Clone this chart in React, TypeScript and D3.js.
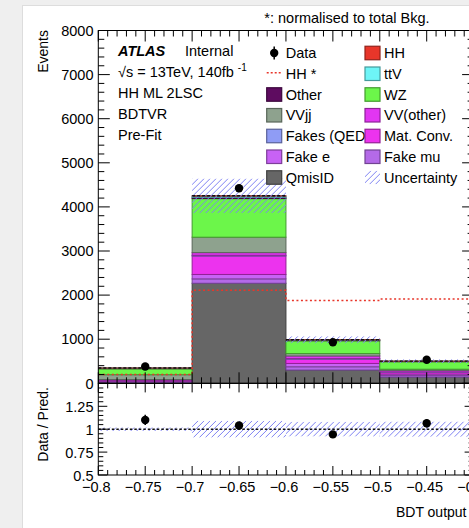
import React from "react";
import * as d3 from "d3";

// Bin edges of the BDT output histogram
const binEdges = [-0.8, -0.7, -0.6, -0.5, -0.4];

// Expected yields per bin for each background sample (stacking order, bottom to top)
const qmisIdYield = [22, 2268, 300, 140];
const fakeMuYield = [12, 100, 75, 35];
const fakeEYield = [12, 100, 75, 35];
const matConvYield = [15, 420, 100, 45];
const fakesQedYield = [4, 15, 10, 5];
const vvOtherYield = [20, 60, 60, 35];
const vvjjYield = [110, 350, 55, 25];
const wzYield = [135, 875, 290, 170];
const otherYield = [10, 28, 15, 8];
const ttvYield = [5, 28, 5, 3];
const hhYield = [2, 8, 2, 1];

// Observed events, total prediction uncertainty and HH signal normalised to total background
const dataYield = [382, 4422, 931, 535];
const totalUncertainty = [7, 390, 80, 42];
const hhNormalisedYield = [200, 2110, 1880, 1910];

// Axis ticks
const mainYTicks = [0, 1000, 2000, 3000, 4000, 5000, 6000, 7000, 8000];
const ratioYTicks = [0.5, 0.75, 1, 1.25];
const xTickValues = [-0.8, -0.75, -0.7, -0.65, -0.6, -0.55, -0.5, -0.45, -0.4];

const FONT = "'Liberation Sans', Arial, Helvetica, sans-serif";
const FS = 14.5;

type Sample = { name: string; values: number[]; color: string };

const samples: Sample[] = [
  { name: "QmisID", values: qmisIdYield, color: "#666666" },
  { name: "Fake mu", values: fakeMuYield, color: "#b46ae8" },
  { name: "Fake e", values: fakeEYield, color: "#c862f5" },
  { name: "Mat. Conv.", values: matConvYield, color: "#ec33ee" },
  { name: "Fakes (QED)", values: fakesQedYield, color: "#8f9cf5" },
  { name: "VV(other)", values: vvOtherYield, color: "#e236f2" },
  { name: "VVjj", values: vvjjYield, color: "#8ea28e" },
  { name: "WZ", values: wzYield, color: "#6cf64a" },
  { name: "Other", values: otherYield, color: "#5e0c60" },
  { name: "ttV", values: ttvYield, color: "#6ef5f7" },
  { name: "HH", values: hhYield, color: "#e8362a" },
];

const colorOf = (n: string) => samples.find((s) => s.name === n)!.color;
const darker = (c: string) => d3.color(c)!.darker(1.3).formatHex();

const HATCH = "#7f82f2";
const RED = "#e8362a";

export default function App() {
  const left = 98.3;
  const right = 473.6;
  const mainTop = 30.5;
  const mainBottom = 383.3;
  const ratioTop = 383.4;
  const ratioBottom = 475;

  const x = d3.scaleLinear().domain([binEdges[0], binEdges[binEdges.length - 1]]).range([left, right]);
  const y = d3.scaleLinear().domain([0, 8000]).range([mainBottom, mainTop]);
  const r = d3.scaleLinear().domain([0.5, 1.5]).range([ratioBottom, ratioTop]);

  const nBins = binEdges.length - 1;
  const rows = d3.range(nBins).map((i) => {
    const row: Record<string, number> = {};
    samples.forEach((s) => (row[s.name] = s.values[i]));
    return row;
  });
  const stacked = d3.stack<Record<string, number>>().keys(samples.map((s) => s.name))(rows);
  const totals = d3.range(nBins).map((i) => d3.sum(samples, (s) => s.values[i]));

  const stepPoints = (vals: number[]) => {
    const pts: [number, number][] = vals.map((v, i) => [binEdges[i], v]);
    pts.push([binEdges[nBins], vals[nBins - 1]]);
    return pts;
  };
  const stepLine = d3
    .line<[number, number]>()
    .x((d) => x(d[0]))
    .y((d) => y(d[1]))
    .curve(d3.curveStepAfter);

  // Tick generators
  const xMinor = d3.range(0, 41).map((i) => ({ v: -0.8 + i * 0.01, major: i % 5 === 0 }));
  const yMinor = d3.range(0, 41).map((i) => ({ v: i * 200, major: i % 5 === 0 }));
  const rMinor = d3.range(0, 21).map((i) => ({ v: 0.5 + i * 0.05, major: i % 5 === 0 }));

  const fmtX = (v: number) => (v < 0 ? "\u2212" : "") + String(Math.abs(v));
  const fmtR = (v: number) => String(v);

  const legendRow = (i: number) => 53 + 20.75 * i;
  const col1Box = 266.7;
  const col2Box = 365;
  const boxW = 15;
  const boxH = 13.5;

  const legendBoxes: { name: string; col: number; row: number }[] = [
    { name: "Other", col: 0, row: 2 },
    { name: "VVjj", col: 0, row: 3 },
    { name: "Fakes (QED)", col: 0, row: 4 },
    { name: "Fake e", col: 0, row: 5 },
    { name: "QmisID", col: 0, row: 6 },
    { name: "HH", col: 1, row: 0 },
    { name: "ttV", col: 1, row: 1 },
    { name: "WZ", col: 1, row: 2 },
    { name: "VV(other)", col: 1, row: 3 },
    { name: "Mat. Conv.", col: 1, row: 4 },
    { name: "Fake mu", col: 1, row: 5 },
  ];

  // Diagonal hatch lines ("///") for the uncertainty band
  const hatchRect = (key: string, x0: number, y0: number, w: number, h: number) => {
    const step = 6;
    const lines = [];
    for (let k = -h; k < w + step; k += step) {
      lines.push(
        <line key={`${key}-${k}`} x1={x0 + k} y1={y0 + h} x2={x0 + k + h} y2={y0} stroke={HATCH} strokeWidth={1} />
      );
    }
    return (
      <g key={key}>
        <clipPath id={`clip-${key}`}>
          <rect x={x0} y={y0} width={w} height={h} />
        </clipPath>
        <g clipPath={`url(#clip-${key})`}>{lines}</g>
      </g>
    );
  };

  return (
    <div style={{ position: "absolute", left: 0, top: 0 }}>
      <svg width={469} height={528} style={{ display: "block", fontFamily: FONT }}>
        <defs>
          <clipPath id="main-clip">
            <rect x={left} y={mainTop} width={right - left} height={mainBottom - mainTop} />
          </clipPath>
          <clipPath id="ratio-clip">
            <rect x={left} y={ratioTop} width={right - left} height={ratioBottom - ratioTop} />
          </clipPath>
          <clipPath id="legend-col1">
            <rect x={0} y={0} width={col2Box} height={528} />
          </clipPath>
        </defs>

        {/* canvas */}
        <rect x={0} y={0} width={469} height={528} fill="#efefef" />
        <rect x={22.5} y={5.5} width={460} height={540} fill="#ffffff" stroke="#dddddd" />

        {/* stacked backgrounds */}
        <g clipPath="url(#main-clip)">
          {stacked.map((layer, li) =>
            layer.map((d, i) => (
              <rect
                key={`${li}-${i}`}
                x={x(binEdges[i])}
                y={y(d[1])}
                width={x(binEdges[i + 1]) - x(binEdges[i])}
                height={Math.max(0, y(d[0]) - y(d[1]))}
                fill={samples[li].color}
                stroke={darker(samples[li].color)}
                strokeWidth={1}
              />
            ))
          )}
          {/* uncertainty band */}
          {totals.map((t, i) =>
            hatchRect(
              `unc-${i}`,
              x(binEdges[i]),
              y(t + totalUncertainty[i]),
              x(binEdges[i + 1]) - x(binEdges[i]),
              y(t - totalUncertainty[i]) - y(t + totalUncertainty[i])
            )
          )}
          {/* total prediction */}
          {totals.map((t, i) => (
            <line
              key={`tot-${i}`}
              x1={x(binEdges[i])}
              x2={x(binEdges[i + 1])}
              y1={y(t)}
              y2={y(t)}
              stroke="#111"
              strokeWidth={1.4}
              strokeDasharray="3,2"
            />
          ))}
          {/* normalised HH */}
          <path
            d={stepLine(stepPoints(hhNormalisedYield))!}
            fill="none"
            stroke={RED}
            strokeWidth={1.5}
            strokeDasharray="2,2.5"
          />
          {/* data */}
          {dataYield.map((d, i) => {
            const cx = x((binEdges[i] + binEdges[i + 1]) / 2);
            const e = Math.sqrt(d);
            return (
              <g key={`data-${i}`}>
                <line x1={cx} x2={cx} y1={y(d - e)} y2={y(d + e)} stroke="#000" strokeWidth={1.5} />
                <circle cx={cx} cy={y(d)} r={4.2} fill="#000" />
              </g>
            );
          })}
        </g>

        {/* ratio panel */}
        <g clipPath="url(#ratio-clip)">
          {totals.map((t, i) =>
            hatchRect(
              `runc-${i}`,
              x(binEdges[i]),
              r(1 + totalUncertainty[i] / t),
              x(binEdges[i + 1]) - x(binEdges[i]),
              r(1 - totalUncertainty[i] / t) - r(1 + totalUncertainty[i] / t)
            )
          )}
          <line x1={left} x2={right} y1={r(1)} y2={r(1)} stroke="#111" strokeWidth={1.4} strokeDasharray="2.5,2" />
          {dataYield.map((d, i) => {
            const cx = x((binEdges[i] + binEdges[i + 1]) / 2);
            const ratio = d / totals[i];
            const e = Math.sqrt(d) / totals[i];
            return (
              <g key={`rdata-${i}`}>
                <line x1={cx} x2={cx} y1={r(ratio - e)} y2={r(ratio + e)} stroke="#000" strokeWidth={1.5} />
                <circle cx={cx} cy={r(ratio)} r={4.2} fill="#000" />
              </g>
            );
          })}
        </g>

        {/* frames */}
        <rect x={left} y={mainTop} width={right - left} height={mainBottom - mainTop} fill="none" stroke="#000" strokeWidth={1} />
        <rect x={left} y={ratioTop} width={right - left} height={ratioBottom - ratioTop} fill="none" stroke="#000" strokeWidth={1} />

        {/* ticks */}
        <g stroke="#000" strokeWidth={1}>
          {xMinor.map((t, i) => {
            const xx = x(t.v);
            const lm = t.major ? 11 : 6;
            const lr = t.major ? 9 : 5;
            return (
              <g key={`xt-${i}`}>
                <line x1={xx} x2={xx} y1={mainBottom} y2={mainBottom - lm} />
                <line x1={xx} x2={xx} y1={mainTop} y2={mainTop + lm} />
                <line x1={xx} x2={xx} y1={ratioTop} y2={ratioTop + lr} />
                <line x1={xx} x2={xx} y1={ratioBottom} y2={ratioBottom - lr} />
              </g>
            );
          })}
          {yMinor.map((t, i) => {
            const yy = y(t.v);
            const l = t.major ? 11.5 : 6;
            return (
              <g key={`yt-${i}`}>
                <line x1={left} x2={left + l} y1={yy} y2={yy} />
                <line x1={right} x2={right - l} y1={yy} y2={yy} />
              </g>
            );
          })}
          {rMinor.map((t, i) => {
            const yy = r(t.v);
            const l = t.major ? 9 : 5;
            return (
              <g key={`rt-${i}`}>
                <line x1={left} x2={left + l} y1={yy} y2={yy} />
                <line x1={right} x2={right - l} y1={yy} y2={yy} />
              </g>
            );
          })}
        </g>

        {/* tick labels */}
        <g fontSize={FS} fill="#000">
          {mainYTicks.map((v) => (
            <text key={`yl-${v}`} x={93.5} y={y(v) + 5.2} textAnchor="end">
              {v}
            </text>
          ))}
          {ratioYTicks.map((v) => (
            <text key={`rl-${v}`} x={93.5} y={r(v) + 5.4 + (v === 0.5 ? 1 : 0)} textAnchor="end">
              {fmtR(v)}
            </text>
          ))}
          {xTickValues.map((v) => (
            <text key={`xl-${v}`} x={x(v) - 2} y={491.5} textAnchor="middle">
              {fmtX(v)}
            </text>
          ))}
        </g>

        {/* axis titles */}
        <text fontSize={14} transform="translate(48,30) rotate(-90)" textAnchor="end">
          Events
        </text>
        <text fontSize={14} transform="translate(48.3,387) rotate(-90)" textAnchor="end">
          Data / Pred.
        </text>
        <text fontSize={14} x={466.5} y={517} textAnchor="end">
          BDT output
        </text>

        {/* header */}
        <text fontSize={FS} x={264.3} y={22.5}>
          *: normalised to total Bkg.
        </text>

        {/* label block */}
        <g fontSize={FS}>
          <text x={118} y={55.8} fontWeight="bold" fontStyle="italic">
            ATLAS
          </text>
          <text x={185} y={55.8}>
            Internal
          </text>
          <text x={118} y={76.8}>
            √s = 13TeV, 140fb
            <tspan dx={4} dy={-6} fontSize={10}>
              -1
            </tspan>
          </text>
          <text x={118} y={98}>
            HH ML 2LSC
          </text>
          <text x={118} y={119}>
            BDTVR
          </text>
          <text x={118} y={140}>
            Pre-Fit
          </text>
        </g>

        {/* legend */}
        <g fontSize={FS}>
          {/* Data marker */}
          <line x1={col1Box + 7.5} x2={col1Box + 7.5} y1={legendRow(0) - 6.5} y2={legendRow(0) + 6.5} stroke="#000" strokeWidth={1.5} />
          <circle cx={col1Box + 7.5} cy={legendRow(0)} r={4.2} fill="#000" />
          <text x={285.7} y={legendRow(0) + 5.2}>Data</text>
          {/* normalised HH line */}
          <line
            x1={col1Box}
            x2={col1Box + boxW + 1}
            y1={legendRow(1) - 1}
            y2={legendRow(1) - 1}
            stroke={RED}
            strokeWidth={1.5}
            strokeDasharray="2,2"
          />
          <text x={285.7} y={legendRow(1) + 5.2}>HH *</text>

          {legendBoxes.map((b) => {
            const bx = b.col === 0 ? col1Box : col2Box;
            const tx = b.col === 0 ? 285.7 : 384;
            const c = colorOf(b.name);
            return (
              <g key={`lg-${b.name}`}>
                <text x={tx} y={legendRow(b.row) + 5.2} clipPath={b.col === 0 ? "url(#legend-col1)" : undefined}>
                  {b.name}
                </text>
                <rect
                  x={bx}
                  y={legendRow(b.row) - boxH / 2}
                  width={boxW}
                  height={boxH}
                  fill={c}
                  stroke={darker(c)}
                  strokeWidth={1.2}
                />
              </g>
            );
          })}
          {hatchRect("legend-unc", col2Box, legendRow(6) - boxH / 2, boxW, boxH)}
          <text x={384} y={legendRow(6) + 5.2}>Uncertainty</text>
        </g>
      </svg>
    </div>
  );
}
